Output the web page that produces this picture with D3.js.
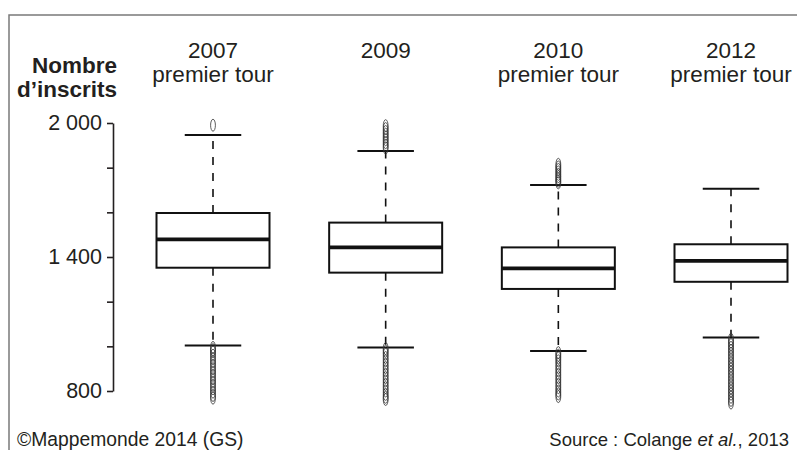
<!DOCTYPE html>
<html>
<head>
<meta charset="utf-8">
<script src="https://cdn.jsdelivr.net/npm/d3@7"></script>
<style>
  body { margin: 0; background: #fff; }
  text { font-family: "Liberation Sans", Arial, sans-serif; fill: #231f20; }
</style>
</head>
<body>
<div id="app"></div>
<script>
const years = ["2007", "2009", "2010", "2012"];
const subtitles = ["premier tour", "", "premier tour", "premier tour"];

// box stats (nombre d'inscrits)
const lowWhisker = [1004, 995, 979, 1039];
const q1 = [1352, 1330, 1257, 1289];
const median = [1479, 1443, 1349, 1383];
const q3 = [1597, 1554, 1443, 1457];
const highWhisker = [1946, 1875, 1722, 1706];

const outliers2007 = [1990, 995, 985, 975, 960, 945, 930, 915, 900, 885, 870, 855, 840, 825, 810, 795, 780, 768];
const outliers2009 = [1988, 1975, 1962, 1950, 1937, 1925, 1912, 1900, 1888,
  990, 978, 965, 950, 935, 920, 905, 890, 875, 860, 845, 830, 815, 800, 785, 772, 762];
const outliers2010 = [1815, 1803, 1792, 1781, 1770, 1760, 1750, 1740, 1732,
  972, 960, 948, 935, 920, 905, 890, 875, 860, 845, 830, 815, 800, 787, 775];
const outliers2012 = [1032, 1020, 1008, 995, 982, 968, 954, 940, 926, 912, 898, 884, 870,
  856, 842, 828, 814, 800, 786, 772, 758, 746];
const outliers = [outliers2007, outliers2009, outliers2010, outliers2012];

const tickValues = [800, 1000, 1200, 1400, 1600, 1800, 2000];
const tickLabels = { 800: "800", 1400: "1 400", 2000: "2 000" };

const full = { width: 797, height: 450 };

const boxes = years.map((y, i) => ({
  year: y, sub: subtitles[i],
  lo: lowWhisker[i], q1: q1[i], med: median[i], q3: q3[i], hi: highWhisker[i],
  out: outliers[i]
}));

const svg = d3.select("#app").append("svg")
  .attr("width", full.width)
  .attr("height", full.height);

// frame
svg.append("rect")
  .attr("x", 9).attr("y", 15)
  .attr("width", 820).attr("height", 460)
  .attr("fill", "none")
  .attr("stroke", "#7a7a7a")
  .attr("stroke-width", 1.5);

const y = d3.scaleLinear().domain([800, 2000]).range([391, 123]);
const x = d3.scalePoint().domain(years).range([213, 731]);
const boxW = 113;

const axis = svg.append("g")
  .attr("transform", "translate(113,0)")
  .call(d3.axisLeft(y)
    .tickValues(tickValues)
    .tickSize(6)
    .tickSizeOuter(0)
    .tickPadding(5)
    .tickFormat(d => tickLabels[d] || ""));
axis.select(".domain").attr("stroke", "#231f20").attr("stroke-width", 1.6);
axis.selectAll(".tick line").attr("stroke", "#231f20").attr("stroke-width", 1.6);
axis.selectAll(".tick text")
  .attr("font-size", 21.5)
  .attr("font-family", "Liberation Sans, Arial, sans-serif")
  .attr("fill", "#231f20");

// y title
svg.append("text")
  .attr("x", 117).attr("y", 73)
  .attr("text-anchor", "end")
  .attr("font-size", 22.5)
  .attr("font-weight", "bold")
  .text("Nombre");
svg.append("text")
  .attr("x", 117).attr("y", 97)
  .attr("text-anchor", "end")
  .attr("font-size", 22.5)
  .attr("font-weight", "bold")
  .text("d\u2019inscrits");

const g = svg.selectAll(".box")
  .data(boxes)
  .join("g")
  .attr("class", "box")
  .attr("transform", d => `translate(${x(d.year)},0)`);

// titles
g.append("text")
  .attr("y", 58)
  .attr("text-anchor", "middle")
  .attr("font-size", 22.5)
  .text(d => d.year);
g.append("text")
  .attr("y", 82)
  .attr("text-anchor", "middle")
  .attr("font-size", 22.5)
  .text(d => d.sub);

// whiskers
g.append("line")
  .attr("y1", d => y(d.q3)).attr("y2", d => y(d.hi))
  .attr("stroke", "#111").attr("stroke-width", 1.6)
  .attr("stroke-dasharray", "8,8");
g.append("line")
  .attr("y1", d => y(d.q1)).attr("y2", d => y(d.lo))
  .attr("stroke", "#111").attr("stroke-width", 1.6)
  .attr("stroke-dasharray", "8,8");
g.selectAll(".cap")
  .data(d => [d.hi, d.lo])
  .join("line")
  .attr("class", "cap")
  .attr("x1", -boxW / 4).attr("x2", boxW / 4)
  .attr("y1", v => y(v)).attr("y2", v => y(v))
  .attr("stroke", "#111").attr("stroke-width", 2);

// box
g.append("rect")
  .attr("x", -boxW / 2).attr("width", boxW)
  .attr("y", d => y(d.q3))
  .attr("height", d => y(d.q1) - y(d.q3))
  .attr("fill", "#fff")
  .attr("stroke", "#111").attr("stroke-width", 2);
g.append("line")
  .attr("x1", -boxW / 2).attr("x2", boxW / 2)
  .attr("y1", d => y(d.med)).attr("y2", d => y(d.med))
  .attr("stroke", "#111").attr("stroke-width", 3.8);

// outliers
g.selectAll(".out")
  .data(d => d.out)
  .join("ellipse")
  .attr("class", "out")
  .attr("cx", 0).attr("cy", v => y(v))
  .attr("rx", 2.4).attr("ry", 6)
  .attr("fill", "none")
  .attr("stroke", "#333").attr("stroke-width", 0.8);

// footer
svg.append("text")
  .attr("x", 17).attr("y", 446)
  .attr("font-size", 19.3)
  .text("\u00A9Mappemonde 2014 (GS)");
const src = svg.append("text")
  .attr("x", 789).attr("y", 446)
  .attr("text-anchor", "end")
  .attr("font-size", 18.5);
src.append("tspan").text("Source : Colange ");
src.append("tspan").attr("font-style", "italic").text("et al.");
src.append("tspan").text(", 2013");
</script>
</body>
</html>
